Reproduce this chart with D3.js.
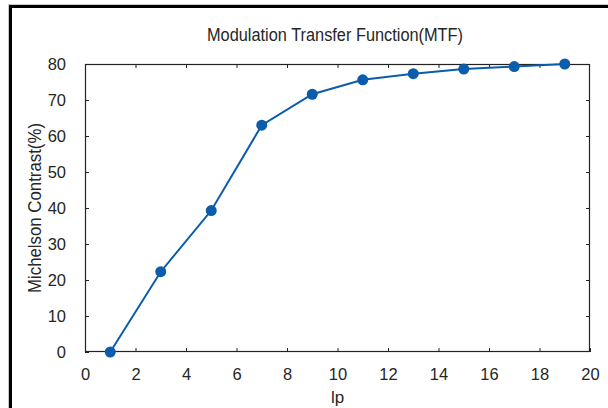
<!DOCTYPE html>
<html>
<head>
<meta charset="utf-8">
<script src="https://cdn.jsdelivr.net/npm/d3@7"></script>
<style>
  html, body { margin: 0; padding: 0; background: #fff; }
  svg { display: block; }
  text { font-family: "Liberation Sans", Arial, sans-serif; fill: #262626; }
</style>
</head>
<body>
<svg id="chart" width="608" height="408"></svg>
<script>
// Spatial frequency (line pairs) and measured Michelson contrast in percent
const lp = [1, 3, 5, 7, 9, 11, 13, 15, 17, 19];
const contrast = [0, 22.3, 39.3, 63, 71.6, 75.6, 77.3, 78.6, 79.3, 80];
const xTicks = [0, 2, 4, 6, 8, 10, 12, 14, 16, 18, 20];
const yTicks = [0, 10, 20, 30, 40, 50, 60, 70, 80];

const svg = d3.select("#chart");
const W = 608, H = 408;
const plot = { left: 85, right: 590, top: 64, bottom: 352 };

const x = d3.scaleLinear().domain([0, 20]).range([plot.left, plot.right]);
const y = d3.scaleLinear().domain([0, 80]).range([plot.bottom, plot.top]);

// Outer frame (top and left edges)
svg.append("line").attr("x1", 8).attr("x2", W).attr("y1", 4.5).attr("y2", 4.5)
  .attr("stroke", "#c8c8c8").attr("stroke-width", 1);
svg.append("line").attr("x1", 8.5).attr("x2", 8.5).attr("y1", 4).attr("y2", H)
  .attr("stroke", "#c8c8c8").attr("stroke-width", 1);
svg.append("rect").attr("x", 9).attr("y", 5).attr("width", W - 9).attr("height", 3).attr("fill", "#000");
svg.append("rect").attr("x", 9).attr("y", 5).attr("width", 3).attr("height", H - 5).attr("fill", "#000");

// Axes: ticks pointing inward, mirrored on top and right
const tickLen = 4;
const axisColor = "#222";
const tickFont = 16.5;
function styleAxis(g) {
  g.selectAll(".domain").remove();
  g.selectAll(".tick line").attr("stroke", axisColor);
}
function styleLabels(g) {
  g.selectAll("text").attr("font-size", tickFont).attr("fill", "#262626")
    .attr("font-family", "Liberation Sans, Arial, sans-serif");
}
svg.append("g").attr("transform", `translate(0,${plot.bottom})`)
  .call(d3.axisBottom(x).tickValues(xTicks).tickSizeInner(-tickLen).tickSizeOuter(0).tickPadding(16))
  .call(styleAxis).call(styleLabels);
svg.append("g").attr("transform", `translate(0,${plot.top})`)
  .call(d3.axisTop(x).tickValues(xTicks.slice(1, -1)).tickSizeInner(-tickLen).tickSizeOuter(0).tickFormat(""))
  .call(styleAxis);
svg.append("g").attr("transform", `translate(${plot.left},0)`)
  .call(d3.axisLeft(y).tickValues(yTicks).tickSizeInner(-tickLen).tickSizeOuter(0).tickPadding(19))
  .call(styleAxis).call(styleLabels);
svg.append("g").attr("transform", `translate(${plot.right},0)`)
  .call(d3.axisRight(y).tickValues(yTicks.slice(1, -1)).tickSizeInner(-tickLen).tickSizeOuter(0).tickFormat(""))
  .call(styleAxis);

// Plot box
svg.append("rect")
  .attr("x", plot.left + 0.5).attr("y", plot.top + 0.5)
  .attr("width", plot.right - plot.left - 1).attr("height", plot.bottom - plot.top - 1)
  .attr("fill", "none").attr("stroke", axisColor).attr("stroke-width", 1.2);

// MTF curve and markers
const blue = "#0b5dab";
const pts = lp.map((v, i) => [v, contrast[i]]);
svg.append("path")
  .datum(pts)
  .attr("fill", "none")
  .attr("stroke", blue)
  .attr("stroke-width", 2)
  .attr("d", d3.line().x(d => x(d[0])).y(d => y(d[1])));
svg.append("g").selectAll("circle")
  .data(pts).join("circle")
  .attr("cx", d => x(d[0])).attr("cy", d => y(d[1]))
  .attr("r", 5.5).attr("fill", blue);

// Title and axis labels
svg.append("text")
  .attr("x", 335).attr("y", 40.5).attr("text-anchor", "middle")
  .attr("font-size", 17.5).attr("textLength", 256).attr("lengthAdjust", "spacingAndGlyphs")
  .text("Modulation Transfer Function(MTF)");
svg.append("text")
  .attr("x", (plot.left + plot.right) / 2).attr("y", 403).attr("text-anchor", "middle")
  .attr("font-size", 17)
  .text("lp");
svg.append("text")
  .attr("transform", `translate(41,${(plot.top + plot.bottom) / 2}) rotate(-90)`)
  .attr("text-anchor", "middle")
  .attr("font-size", 18).attr("textLength", 170).attr("lengthAdjust", "spacingAndGlyphs")
  .text("Michelson Contrast(%)");
</script>
</body>
</html>
